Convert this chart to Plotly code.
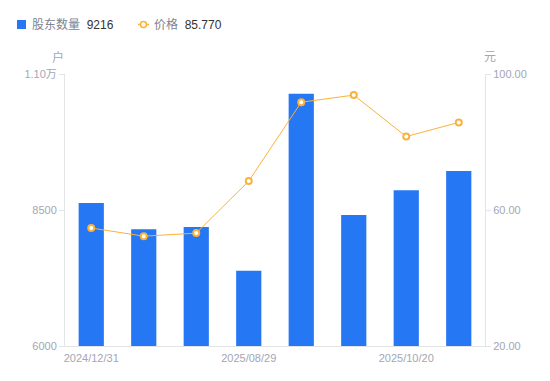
import plotly.graph_objects as go

categories = ["2024/12/31", "2025/03/31", "2025/06/30", "2025/08/29",
              "2025/09/10", "2025/09/30", "2025/10/20", "2025/10/31"]
holders = [8629, 8145, 8188, 7384, 10638, 8408, 8862, 9216]
price = [54.7, 52.3, 53.2, 68.5, 91.7, 93.8, 81.6, 85.77]
x_tick_labels = ["2024/12/31", "2025/08/29", "2025/10/20"]
y1_ticks = [6000, 8500, 11000]
y1_ticktext = ["6000", "8500", "1.10万"]
y2_ticks = [20, 60, 100]
y2_ticktext = ["20.00", "60.00", "100.00"]

BLUE = "#2577F4"
ORANGE = "#FBB23A"
GRAY = "#A3A6B4"
AXIS = "#E3E4E8"
FONT = "Liberation Sans, Noto Sans CJK SC, sans-serif"

# page body has an 8px margin, so the figure is sized/offset to compensate
fig = go.Figure()
fig.add_trace(go.Bar(x=categories, y=holders, marker=dict(color=BLUE, line=dict(width=0)),
                     width=0.48, name="股东数量", yaxis="y"))
fig.add_trace(go.Scatter(x=categories, y=price, mode="lines+markers", name="价格",
                         line=dict(color=ORANGE, width=1),
                         marker=dict(symbol="circle", size=6, color="white",
                                     line=dict(color=ORANGE, width=2)),
                         yaxis="y2"))

fig.update_layout(
    width=542, height=373,
    margin=dict(l=57, r=65, t=66, b=35),
    paper_bgcolor="white", plot_bgcolor="white",
    showlegend=False,
    font=dict(family=FONT, size=11, color=GRAY),
    xaxis=dict(type="category", range=[-0.5, 7.5], tickvals=x_tick_labels,
               ticktext=x_tick_labels, showgrid=False, zeroline=False,
               showline=True, linecolor=AXIS, linewidth=1, ticks="outside",
               ticklen=2, tickcolor="rgba(0,0,0,0)",
               tickfont=dict(size=11, color=GRAY)),
    yaxis=dict(range=[6000, 11000], tickvals=y1_ticks, ticktext=y1_ticktext,
               showgrid=False, zeroline=False, showline=True, linecolor=AXIS,
               ticks="outside", ticklen=5, tickcolor=AXIS,
               tickfont=dict(size=11, color=GRAY)),
    yaxis2=dict(range=[20, 100], tickvals=y2_ticks, ticktext=y2_ticktext,
                overlaying="y", side="right", showgrid=False, zeroline=False,
                showline=True, linecolor=AXIS, ticks="outside", ticklen=5,
                tickcolor=AXIS, tickfont=dict(size=11, color=GRAY)),
)

def px(xw):
    return (xw - 65) / 420

def py(yw):
    return (346 - yw) / 272

# axis unit titles
fig.add_annotation(xref="paper", yref="paper", x=px(58), y=py(57),
                   text="户", showarrow=False, xanchor="center", yanchor="middle",
                   font=dict(size=12, color=GRAY))
fig.add_annotation(xref="paper", yref="paper", x=px(490), y=py(57),
                   text="元", showarrow=False, xanchor="center", yanchor="middle",
                   font=dict(size=12, color=GRAY))

# custom legend
fig.add_shape(type="rect", xref="paper", yref="paper",
              x0=px(17), x1=px(26), y0=py(29), y1=py(20),
              fillcolor=BLUE, line=dict(width=0))
fig.add_annotation(xref="paper", yref="paper", x=px(30), y=py(24.5),
                   text="<span style='color:#80838F'>股东数量</span>&nbsp;&nbsp;<span style='color:#333333'>9216</span>",
                   showarrow=False, xanchor="left", yanchor="middle",
                   font=dict(size=12))
fig.add_shape(type="line", xref="paper", yref="paper",
              x0=px(138), x1=px(149), y0=py(24.5), y1=py(24.5),
              line=dict(color=ORANGE, width=1.5))
fig.add_shape(type="circle", xref="paper", yref="paper",
              x0=px(140.5), x1=px(146.5), y0=py(27.5), y1=py(21.5),
              fillcolor="white", line=dict(color=ORANGE, width=1.5))
fig.add_annotation(xref="paper", yref="paper", x=px(152), y=py(24.5),
                   text="<span style='color:#80838F'>价格</span>&nbsp;&nbsp;<span style='color:#333333'>85.770</span>",
                   showarrow=False, xanchor="left", yanchor="middle",
                   font=dict(size=12))

fig.write_html("out.html")
